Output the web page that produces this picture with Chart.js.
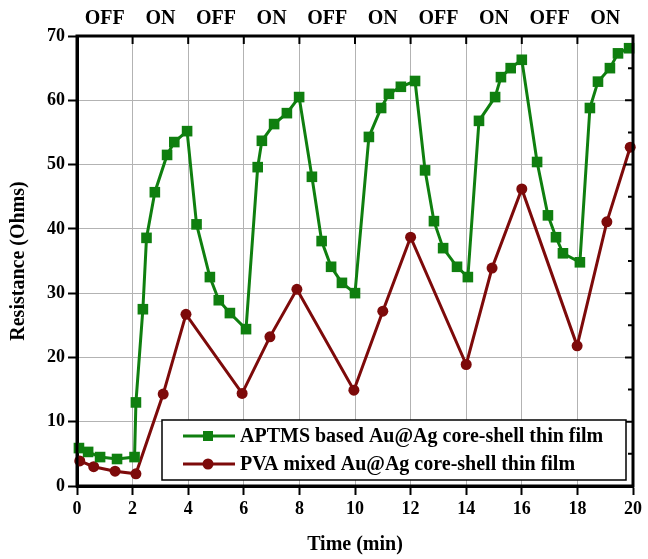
<!DOCTYPE html>
<html><head><meta charset="utf-8">
<script src="https://cdn.jsdelivr.net/npm/chart.js@4/dist/chart.umd.min.js"></script>
<style>html,body{margin:0;padding:0;background:#fff;overflow:hidden}</style>
</head><body><canvas id="c" width="648" height="559"></canvas>
<script>
// ---- data ----
const aptmsTime = [0.07,0.4,0.83,1.44,2.07,2.12,2.37,2.5,2.8,3.24,3.5,3.96,4.3,4.78,5.1,5.5,6.08,6.5,6.65,7.09,7.55,7.99,8.45,8.8,9.14,9.53,10.0,10.5,10.94,11.22,11.65,12.16,12.52,12.84,13.17,13.67,14.06,14.46,15.04,15.25,15.6,16.0,16.55,16.94,17.23,17.48,18.09,18.45,18.74,19.17,19.46,19.86];
const aptmsResistance = [5.9,5.3,4.5,4.2,4.5,13.0,27.5,38.6,45.7,51.5,53.5,55.2,40.7,32.5,28.9,26.9,24.4,49.6,53.7,56.3,58.0,60.5,48.1,38.1,34.1,31.6,30.0,54.3,58.8,61.0,62.1,63.0,49.1,41.2,37.0,34.1,32.5,56.8,60.5,63.6,65.0,66.3,50.4,42.1,38.7,36.2,34.8,58.8,62.9,65.0,67.3,68.1];
const pvaTime = [0.1,0.6,1.37,2.12,3.1,3.92,5.94,6.94,7.91,9.96,11.0,12.0,14.0,14.93,16.0,17.99,19.06,19.9];
const pvaResistance = [3.9,3.0,2.3,1.9,14.3,26.7,14.4,23.2,30.6,14.9,27.2,38.7,18.9,33.9,46.2,21.8,41.1,52.7];
const seriesNames = ['APTMS based Au@Ag core-shell thin film','PVA mixed Au@Ag core-shell thin film'];
const xTicks = [0,2,4,6,8,10,12,14,16,18,20];
const yTicks = [0,10,20,30,40,50,60,70];
const yMinorTicks = [5,15,25,35,45,55,65];
const phaseCenters = [1,3,5,7,9,11,13,15,17,19];
const phaseLabels = ['OFF','ON','OFF','ON','OFF','ON','OFF','ON','OFF','ON'];

const GREEN = '#0f7f0f';
const RED = '#7d0a0a';
const FONT = "'Liberation Serif','Times New Roman',serif";

const framePlugin = {
  id: 'frame',
  afterDatasetsDraw(chart) {
    const {ctx, chartArea: a, scales} = chart;
    ctx.save();
    ctx.strokeStyle = '#000';
    ctx.lineWidth = 3;
    ctx.strokeRect(a.left, a.top, a.right - a.left, a.bottom - a.top);
    ctx.lineWidth = 2;
    ctx.beginPath();
    xTicks.forEach(v => {
      const px = scales.x.getPixelForValue(v);
      ctx.moveTo(px, a.top); ctx.lineTo(px, a.top + 8);
    });
    yTicks.forEach(v => {
      const py = scales.y.getPixelForValue(v);
      ctx.moveTo(a.right, py); ctx.lineTo(a.right - 8, py);
    });
    yMinorTicks.forEach(v => {
      const py = scales.y.getPixelForValue(v);
      ctx.moveTo(a.right, py); ctx.lineTo(a.right - 5, py);
    });
    ctx.stroke();
    ctx.restore();
  },
  afterDraw(chart) {
    const {ctx, chartArea: a} = chart;
    const bx = a.left + 85, by = a.bottom - 66, bw = a.right - 7 - bx, bh = 60;
    ctx.save();
    ctx.fillStyle = '#fff';
    ctx.fillRect(bx, by, bw, bh);
    ctx.strokeStyle = '#000';
    ctx.lineWidth = 1.5;
    ctx.strokeRect(bx, by, bw, bh);
    chart.data.datasets.forEach((ds, i) => {
      const cy = by + 16 + i * 28;
      ctx.strokeStyle = ds.borderColor;
      ctx.lineWidth = ds.borderWidth;
      ctx.beginPath();
      ctx.moveTo(bx + 21, cy); ctx.lineTo(bx + 73, cy);
      ctx.stroke();
      ctx.fillStyle = ds.backgroundColor;
      ctx.beginPath();
      if (ds.pointStyle === 'rect') {
        ctx.rect(bx + 46 - 5, cy - 5, 10, 10);
      } else {
        ctx.arc(bx + 46, cy, 5.5, 0, Math.PI * 2);
      }
      ctx.fill();
      ctx.fillStyle = '#000';
      ctx.font = 'bold 20px ' + FONT;
      ctx.textBaseline = 'middle';
      ctx.textAlign = 'left';
      ctx.fillText(ds.label, bx + 78, cy + 1);
    });
    ctx.restore();
  }
};

const tickFont = {family: FONT, size: 18, weight: 'bold'};
const gridGrey = '#b3b3b3';

new Chart(document.getElementById('c'), {
  type: 'line',
  data: {
    datasets: [
      {
        label: seriesNames[0],
        data: aptmsTime.map((t, i) => ({x: t, y: aptmsResistance[i]})),
        borderColor: GREEN, backgroundColor: GREEN,
        borderWidth: 3, pointStyle: 'rect', pointRadius: 7.5, pointHoverRadius: 7.5,
        pointBorderWidth: 0, tension: 0, clip: false
      },
      {
        label: seriesNames[1],
        data: pvaTime.map((t, i) => ({x: t, y: pvaResistance[i]})),
        borderColor: RED, backgroundColor: RED,
        borderWidth: 3, pointStyle: 'circle', pointRadius: 5.5, pointHoverRadius: 5.5,
        pointBorderWidth: 0, tension: 0, clip: false
      }
    ]
  },
  options: {
    responsive: false,
    animation: false,
    devicePixelRatio: 1,
    layout: {padding: {left: 0, right: 15, top: 0, bottom: 0}},
    plugins: {legend: {display: false}, tooltip: {enabled: false}},
    scales: {
      x: {
        type: 'linear', position: 'bottom', min: 0, max: 20,
        afterBuildTicks: s => { s.ticks = xTicks.map(v => ({value: v})); },
        afterFit: s => { s.height = 73; },
        ticks: {font: tickFont, color: '#000', padding: 4, maxRotation: 0, autoSkip: false},
        grid: {color: gridGrey, lineWidth: 1, tickColor: '#000', tickLength: 9, tickWidth: 2},
        border: {color: '#000', width: 3},
        title: {display: true, text: 'Time (min)', color: '#000',
                font: {family: FONT, size: 20, weight: 'bold'}, padding: {top: 0, bottom: 2}}
      },
      xTop: {
        type: 'linear', position: 'top', min: 0, max: 20,
        afterBuildTicks: s => { s.ticks = phaseCenters.map(v => ({value: v})); },
        afterFit: s => { s.height = 36; },
        ticks: {font: {family: FONT, size: 20, weight: 'bold'}, color: '#000', padding: 5,
                maxRotation: 0, autoSkip: false,
                callback: v => phaseLabels[phaseCenters.indexOf(v)]},
        grid: {display: false, drawTicks: false},
        border: {display: false}
      },
      y: {
        type: 'linear', position: 'left', min: 0, max: 70,
        afterBuildTicks: s => { s.ticks = yTicks.map(v => ({value: v})); },
        afterFit: s => { s.width = 77; },
        ticks: {font: tickFont, color: '#000', padding: 3},
        grid: {color: gridGrey, lineWidth: 1, tickColor: '#000', tickLength: 9, tickWidth: 2},
        border: {color: '#000', width: 3},
        title: {display: true, text: 'Resistance (Ohms)', color: '#000',
                font: {family: FONT, size: 20, weight: 'bold'}, padding: {top: 7, bottom: 0}}
      }
    }
  },
  plugins: [framePlugin]
});
</script>
</body></html>
